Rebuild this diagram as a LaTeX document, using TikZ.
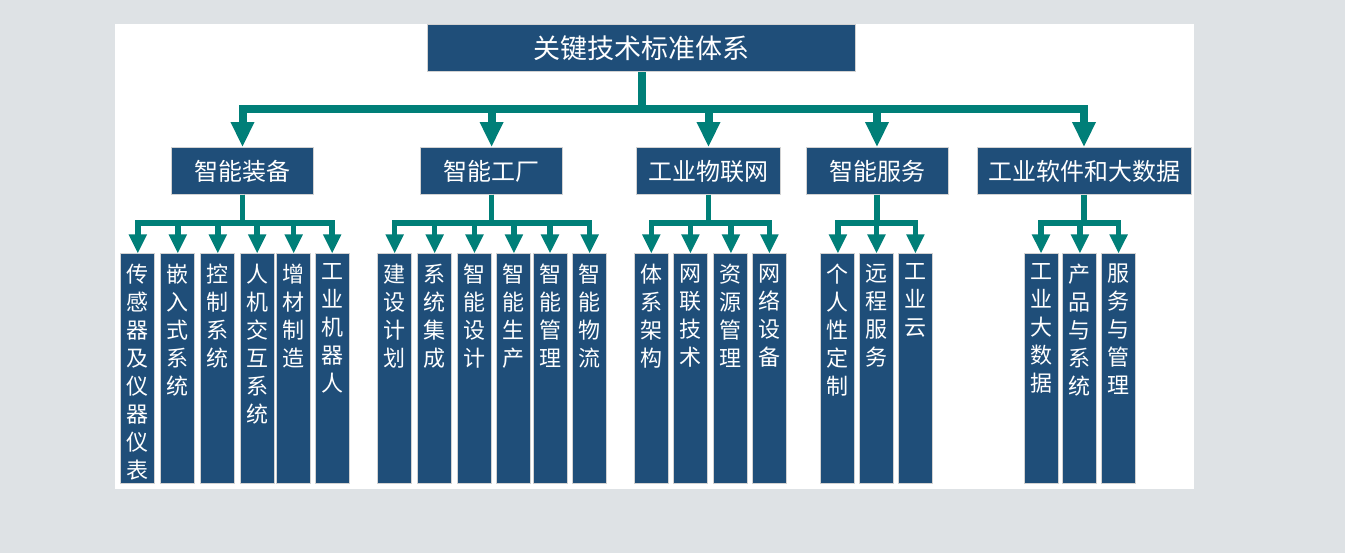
\documentclass[tikz,border=0pt]{standalone}
\usepackage{fontspec}
\setmainfont{Noto Sans CJK SC}
\usetikzlibrary{arrows.meta}

\definecolor{boxblue}{HTML}{1F4E79}
\definecolor{linkteal}{HTML}{007F78}
\definecolor{pagegray}{HTML}{DEE2E5}

\newcommand\vtxt[1]{\parbox[c][229pt][t]{34pt}{\centering\vspace*{10pt}#1}}

\tikzset{
  topbox/.style={draw=gray!35, line width=1pt, fill=boxblue, text=white, inner sep=0pt,
    minimum width=428pt, minimum height=46.7pt, font=\fontsize{27}{30}\selectfont},
  headbox/.style={draw=gray!35, line width=1pt, fill=boxblue, text=white, inner sep=0pt,
    minimum height=46.8pt, font=\fontsize{24}{28}\selectfont},
  leafbox/.style={draw=gray!35, line width=1pt, fill=boxblue, text=white, inner sep=0pt,
    anchor=north, font=\fontsize{22}{28}\selectfont},
  mainlink/.style={draw=linkteal, line width=8pt, -{Triangle[width=22pt,length=25pt]}},
  sublink/.style={draw=linkteal, line width=5.5pt, -{Triangle[width=17pt,length=19pt]}}
}

\begin{document}
\begin{tikzpicture}[x=1pt,y=-1pt]
\useasboundingbox (0,0) rectangle (1345,553);
\fill[pagegray] (0,0) rectangle (1345,553);
\fill[white] (115,24) rectangle (1193.5,488.5);

\node[topbox] (std) at (641.6,48.3) {关键技术标准体系};

\node[headbox, minimum width=141.6pt] (zb) at (242.5,171) {智能装备};
\node[headbox, minimum width=141.3pt] (gc) at (491.6,171) {智能工厂};
\node[headbox, minimum width=144pt] (wl) at (708.5,171) {工业物联网};
\node[headbox, minimum width=142pt] (fw) at (877,171) {智能服务};
\node[headbox, minimum width=214pt] (rj) at (1084,171) {工业软件和大数据};

% intelligent equipment
\node[leafbox] (zb1) at (137.8,253.5) {\vtxt{传\\感\\器\\及\\仪\\器\\仪\\表}};
\node[leafbox] (zb2) at (177.8,253.5) {\vtxt{嵌\\入\\式\\系\\统}};
\node[leafbox] (zb3) at (217.8,253.5) {\vtxt{控\\制\\系\\统}};
\node[leafbox] (zb4) at (257.2,253.5) {\vtxt{人\\机\\交\\互\\系\\统}};
\node[leafbox] (zb5) at (293.7,253.5) {\vtxt{增\\材\\制\\造}};
\node[leafbox] (zb6) at (332.2,253.5) {\vtxt{工\\业\\机\\器\\人}};

% intelligent factory
\node[leafbox] (gc1) at (394.7,253.5) {\vtxt{建\\设\\计\\划}};
\node[leafbox] (gc2) at (434.7,253.5) {\vtxt{系\\统\\集\\成}};
\node[leafbox] (gc3) at (474.5,253.5) {\vtxt{智\\能\\设\\计}};
\node[leafbox] (gc4) at (513.9,253.5) {\vtxt{智\\能\\生\\产}};
\node[leafbox] (gc5) at (550,253.5) {\vtxt{智\\能\\管\\理}};
\node[leafbox] (gc6) at (589.7,253.5) {\vtxt{智\\能\\物\\流}};

% industrial internet of things
\node[leafbox] (wl1) at (651.3,253.5) {\vtxt{体\\系\\架\\构}};
\node[leafbox] (wl2) at (690.4,253.5) {\vtxt{网\\联\\技\\术}};
\node[leafbox] (wl3) at (730.9,253.5) {\vtxt{资\\源\\管\\理}};
\node[leafbox] (wl4) at (769.4,253.5) {\vtxt{网\\络\\设\\备}};

% services
\node[leafbox] (fw1) at (837.9,253.5) {\vtxt{个\\人\\性\\定\\制}};
\node[leafbox] (fw2) at (876.5,253.5) {\vtxt{远\\程\\服\\务}};
\node[leafbox] (fw3) at (915.4,253.5) {\vtxt{工\\业\\云}};

% software and big data
\node[leafbox] (rj1) at (1041,253.5) {\vtxt{工\\业\\大\\数\\据}};
\node[leafbox] (rj2) at (1079.9,253.5) {\vtxt{产\\品\\与\\系\\统}};
\node[leafbox] (rj3) at (1118.6,253.5) {\vtxt{服\\务\\与\\管\\理}};

% first level
\draw[mainlink] (std.south) -- ++(0,36.6) -| (zb.north);
\draw[mainlink] (std.south) -- ++(0,36.6) -| (gc.north);
\draw[mainlink] (std.south) -- ++(0,36.6) -| (wl.north);
\draw[mainlink] (std.south) -- ++(0,36.6) -| (fw.north);
\draw[mainlink] (std.south) -- ++(0,36.6) -| (rj.north);

% second level
\draw[sublink] (zb.south) -- ++(0,28.2) -| (zb1.north);
\draw[sublink] (zb.south) -- ++(0,28.2) -| (zb2.north);
\draw[sublink] (zb.south) -- ++(0,28.2) -| (zb3.north);
\draw[sublink] (zb.south) -- ++(0,28.2) -| (zb4.north);
\draw[sublink] (zb.south) -- ++(0,28.2) -| (zb5.north);
\draw[sublink] (zb.south) -- ++(0,28.2) -| (zb6.north);

\draw[sublink] (gc.south) -- ++(0,28.2) -| (gc1.north);
\draw[sublink] (gc.south) -- ++(0,28.2) -| (gc2.north);
\draw[sublink] (gc.south) -- ++(0,28.2) -| (gc3.north);
\draw[sublink] (gc.south) -- ++(0,28.2) -| (gc4.north);
\draw[sublink] (gc.south) -- ++(0,28.2) -| (gc5.north);
\draw[sublink] (gc.south) -- ++(0,28.2) -| (gc6.north);

\draw[sublink] (wl.south) -- ++(0,28.2) -| (wl1.north);
\draw[sublink] (wl.south) -- ++(0,28.2) -| (wl2.north);
\draw[sublink] (wl.south) -- ++(0,28.2) -| (wl3.north);
\draw[sublink] (wl.south) -- ++(0,28.2) -| (wl4.north);

\draw[sublink] (fw.south) -- ++(0,28.2) -| (fw1.north);
\draw[sublink] (fw.south) -- ++(0,28.2) -| (fw2.north);
\draw[sublink] (fw.south) -- ++(0,28.2) -| (fw3.north);

\draw[sublink] (rj.south) -- ++(0,28.2) -| (rj1.north);
\draw[sublink] (rj.south) -- ++(0,28.2) -| (rj2.north);
\draw[sublink] (rj.south) -- ++(0,28.2) -| (rj3.north);

\end{tikzpicture}
\end{document}
